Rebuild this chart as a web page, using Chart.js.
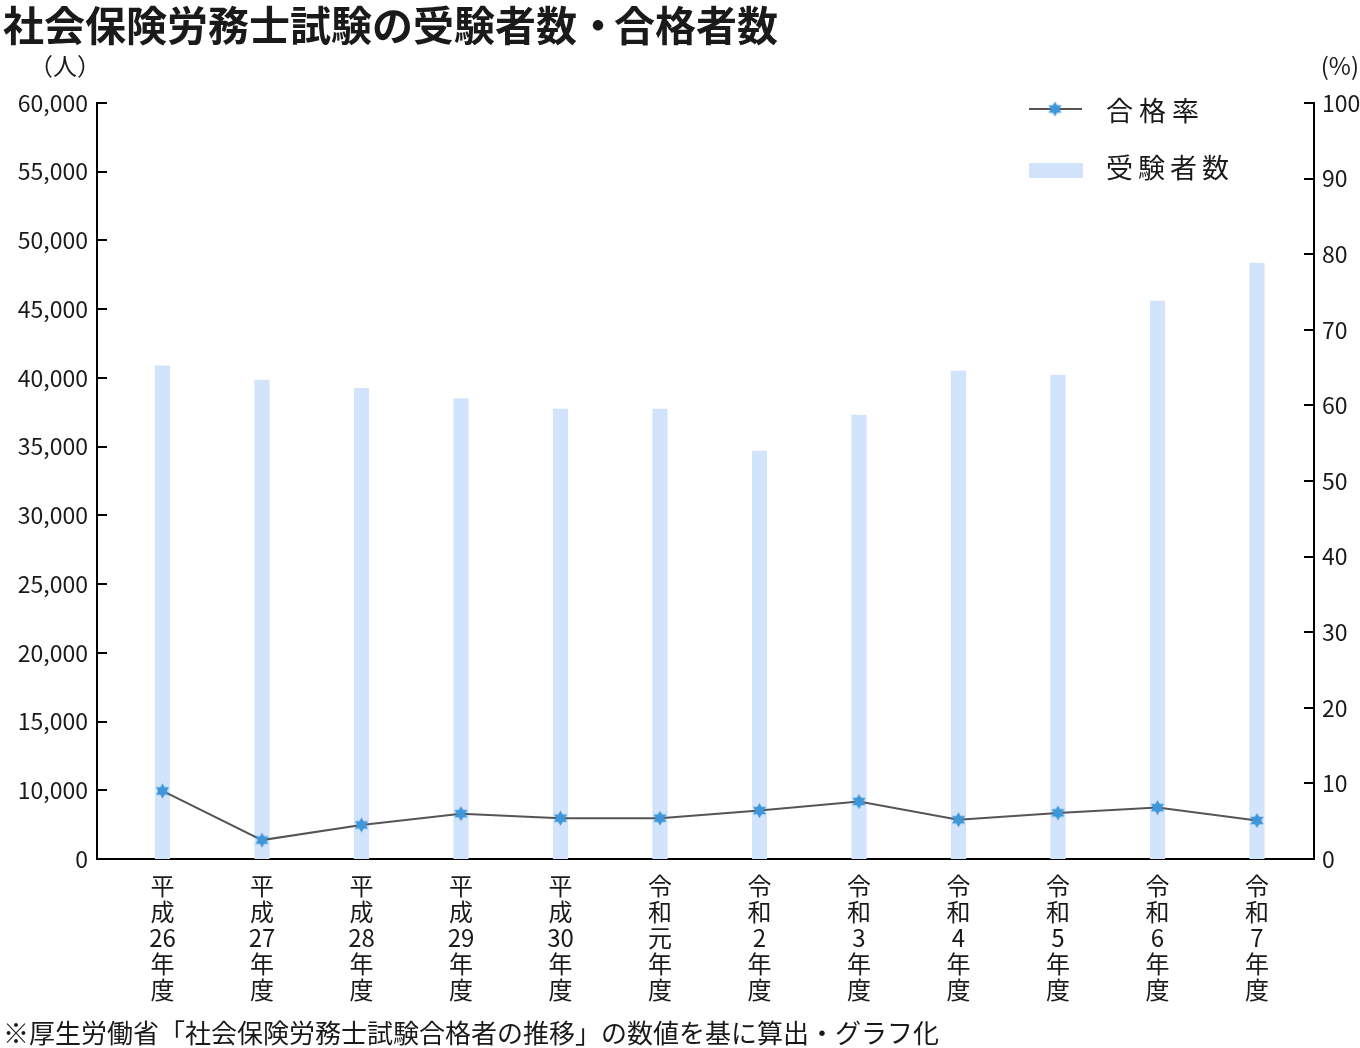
<!DOCTYPE html>
<html lang="ja">
<head>
<meta charset="UTF-8">
<title>社会保険労務士試験の受験者数・合格者数</title>
<script src="https://cdn.jsdelivr.net/npm/chart.js@4.4.1/dist/chart.umd.min.js"></script>
<style>
    html, body { margin: 0; padding: 0; background: #fff; }
    #wrap { width: 1360px; height: 1048px; }
</style>
</head>
<body>
<div id="wrap"><canvas id="chart" width="1360" height="1048"></canvas></div>
<script>
    // 年度 (縦書きラベル)
    const years = [
        ['平', '成', '26', '年', '度'],
        ['平', '成', '27', '年', '度'],
        ['平', '成', '28', '年', '度'],
        ['平', '成', '29', '年', '度'],
        ['平', '成', '30', '年', '度'],
        ['令', '和', '元', '年', '度'],
        ['令', '和', '2', '年', '度'],
        ['令', '和', '3', '年', '度'],
        ['令', '和', '4', '年', '度'],
        ['令', '和', '5', '年', '度'],
        ['令', '和', '6', '年', '度'],
        ['令', '和', '7', '年', '度']
    ];
    // 受験者数 (人)
    const examinees = [40870, 39850, 39240, 38490, 37740, 37740, 34680, 37300, 40500, 40210, 45590, 48360];
    // 合格率 (%)
    const passRates = [9.0, 2.5, 4.5, 6.0, 5.4, 5.4, 6.4, 7.6, 5.2, 6.1, 6.8, 5.1];

    // 左軸の目盛 (元の図では一番下が「0」、次が「10,000」)
    const leftTicks = ['0', '10,000', '15,000', '20,000', '25,000', '30,000', '35,000', '40,000', '45,000', '50,000', '55,000', '60,000'];
    const rightTicks = ['0', '10', '20', '30', '40', '50', '60', '70', '80', '90', '100'];

    const FONT = '"Noto Sans CJK JP", "Noto Sans", sans-serif';
    const BAR_COLOR = '#d1e4fc';
    const LINE_COLOR = '#555555';
    const STAR_COLOR = '#3f96d8';
    const TEXT_COLOR = '#1a1a1a';

    // 六芒星のマーカー
    function starImage(r, color) {
        const s = Math.ceil(r * 2 + 2);
        const c = document.createElement('canvas');
        c.width = s;
        c.height = s;
        const g = c.getContext('2d');
        g.fillStyle = color;
        [-Math.PI / 2, Math.PI / 2].forEach(rot => {
            g.beginPath();
            for (let k = 0; k < 3; k++) {
                const a = rot + k * 2 * Math.PI / 3;
                const px = s / 2 + r * Math.cos(a);
                const py = s / 2 + r * Math.sin(a);
                if (k === 0) g.moveTo(px, py); else g.lineTo(px, py);
            }
            g.closePath();
            g.fill();
        });
        return c;
    }
    const star = starImage(7.5, STAR_COLOR);

    // タイトル・単位・凡例・内向きの目盛線
    const decor = {
        id: 'decor',
        afterDraw(chart) {
            const ctx = chart.ctx;
            const area = chart.chartArea;
            ctx.save();

            // 内向きの目盛線
            ctx.strokeStyle = '#000';
            ctx.lineWidth = 2;
            const yl = chart.scales.y;
            yl.ticks.forEach((t, i) => {
                if (i === 0) return;
                const py = Math.round(yl.getPixelForValue(t.value));
                ctx.beginPath();
                ctx.moveTo(area.left, py);
                ctx.lineTo(area.left + 10, py);
                ctx.stroke();
            });
            const yr = chart.scales.y1;
            yr.ticks.forEach((t, i) => {
                if (i === 0) return;
                const py = Math.round(yr.getPixelForValue(t.value));
                ctx.beginPath();
                ctx.moveTo(area.right - 10, py);
                ctx.lineTo(area.right, py);
                ctx.stroke();
            });

            ctx.fillStyle = TEXT_COLOR;
            ctx.textBaseline = 'middle';

            // タイトル (中黒は詰めて配置)
            ctx.font = 'bold 41px ' + FONT;
            ctx.textAlign = 'left';
            ctx.fillText('社会保険労務士試験の受験者数', 3, 25);
            ctx.textAlign = 'center';
            ctx.fillText('・', 598, 25);
            ctx.textAlign = 'left';
            ctx.fillText('合格者数', 614, 25);

            // 単位
            ctx.font = '24px ' + FONT;
            ctx.textAlign = 'center';
            ctx.fillText('（人）', 65, 66);
            ctx.textAlign = 'right';
            ctx.fillText('(%)', 1359, 66);

            // 出典
            ctx.font = '26px ' + FONT;
            ctx.textAlign = 'left';
            ctx.fillText('※厚生労働省「社会保険労務士試験合格者の推移」の数値を基に算出・グラフ化', 3, 1033);

            // 凡例
            ctx.strokeStyle = LINE_COLOR;
            ctx.lineWidth = 2;
            ctx.beginPath();
            ctx.moveTo(1029, 109);
            ctx.lineTo(1082, 109);
            ctx.stroke();
            ctx.drawImage(star, 1055 - star.width / 2, 109 - star.height / 2);
            ctx.fillStyle = BAR_COLOR;
            ctx.fillRect(1029, 163, 54, 15);

            ctx.fillStyle = TEXT_COLOR;
            ctx.font = '27px ' + FONT;
            ctx.textAlign = 'left';
            ctx.letterSpacing = '6px';
            ctx.fillText('合格率', 1106, 111);
            ctx.letterSpacing = '5px';
            ctx.fillText('受験者数', 1106, 168);
            ctx.restore();
        }
    };

    const tickFont = { family: FONT, size: 23 };

    new Chart(document.getElementById('chart'), {
        type: 'bar',
        data: {
            datasets: [
                {
                    type: 'line',
                    label: '合格率',
                    data: passRates.map((v, i) => ({ x: i, y: v })),
                    yAxisID: 'y1',
                    borderColor: LINE_COLOR,
                    borderWidth: 2,
                    pointStyle: star,
                    pointRadius: 7,
                    tension: 0,
                    order: 0
                },
                {
                    type: 'bar',
                    label: '受験者数',
                    data: examinees.map((v, i) => ({ x: i, y: v })),
                    yAxisID: 'y',
                    backgroundColor: BAR_COLOR,
                    barThickness: 14.5,
                    order: 1
                }
            ]
        },
        options: {
            responsive: false,
            animation: false,
            layout: { padding: { top: 103, left: 0, right: 0, bottom: 30 } },
            plugins: {
                legend: { display: false },
                tooltip: { enabled: false }
            },
            scales: {
                x: {
                    type: 'linear',
                    position: 'bottom',
                    offset: false,
                    min: -0.658,
                    max: 11.573,
                    afterBuildTicks: s => { s.ticks = years.map((_, i) => ({ value: i })); },
                    afterFit: s => { s.height = 159; },
                    ticks: {
                        callback: v => years[v],
                        font: { family: FONT, size: 24, lineHeight: 26 / 24 },
                        color: TEXT_COLOR,
                        padding: 14,
                        maxRotation: 0,
                        autoSkip: false
                    },
                    grid: { display: false, drawTicks: false },
                    border: { display: true, color: '#000', width: 2 }
                },
                y: {
                    position: 'left',
                    min: 5000,
                    max: 60000,
                    afterFit: s => { s.width = 97; },
                    ticks: {
                        stepSize: 5000,
                        callback: (v, i) => leftTicks[i],
                        font: tickFont,
                        color: TEXT_COLOR,
                        padding: 9
                    },
                    grid: { display: false, drawTicks: false },
                    border: { display: true, color: '#000', width: 2 }
                },
                y1: {
                    position: 'right',
                    min: 0,
                    max: 100,
                    afterFit: s => { s.width = 46; },
                    ticks: {
                        stepSize: 10,
                        callback: (v, i) => rightTicks[i],
                        font: tickFont,
                        color: TEXT_COLOR,
                        padding: 8
                    },
                    grid: { display: false, drawTicks: false },
                    border: { display: true, color: '#000', width: 2 }
                }
            }
        },
        plugins: [decor]
    });
</script>
</body>
</html>
